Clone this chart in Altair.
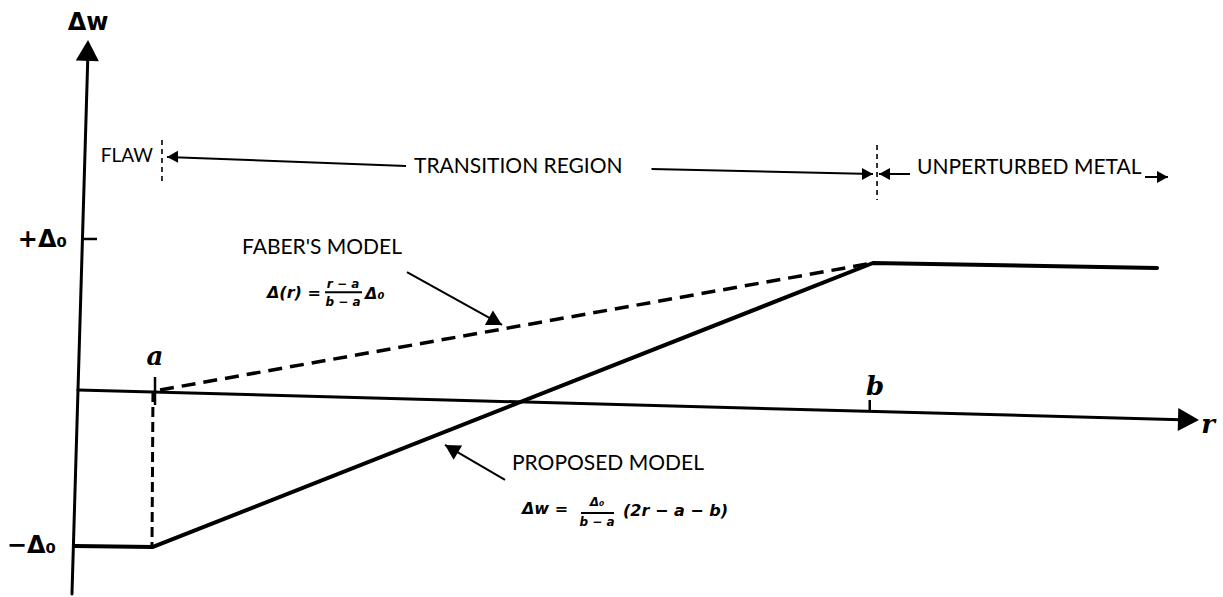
import altair as alt
import pandas as pd

# Horizontal coordinate r (flaw edge a = 1, b = 10.6) and vertical Δw in units
# of Δ0, both read as drawn (the hand-drawn axes are slightly skewed).
R_DOMAIN = [-1.0667, 15.24]
W_DOMAIN = [-1.340, 2.562]

# Coordinate axes: start and end points
axis_r1 = [-0.027, -0.107]
axis_w1 = [0.013, -1.32]
axis_r2 = [14.8, 0.107]
axis_w2 = [-0.183, 2.235]

# Short tick marks: +Δ0 on the Δw axis, a and b on the r axis
tick_r1 = [0.04, 1.0, 10.53]
tick_w1 = [1.0, 0.098, -0.052]
tick_r2 = [0.227, 1.0, 10.53]
tick_w2 = [1.0, -0.085, -0.131]

# Region arrows across the top and the two pointers to the model curves
ptr_r1 = [1.16, 7.62, 10.653, 14.2, 4.36, 5.667]
ptr_w1 = [1.536, 1.458, 1.425, 1.405, 0.784, -0.575]
ptr_r2 = [4.347, 10.573, 11.067, 14.507, 5.627, 4.867]
ptr_w2 = [1.477, 1.425, 1.425, 1.405, 0.438, -0.346]

# Dashed boundaries of the flaw and of the unperturbed metal
bound_r1 = [1.093, 10.627]
bound_w1 = [1.647, 1.614]
bound_r2 = [1.093, 10.627]
bound_w2 = [1.359, 1.255]

# Dashed drop from r = a down to -Δ0
drop_r1 = [0.973]
drop_w1 = [0.0]
drop_r2 = [0.96]
drop_w2 = [-1.0]

# Faber's model: linear from 0 at a up to Δ0 at b
faber_r = [1.067, 10.573]
faber_w = [0.013, 0.843]

# Proposed model: -Δ0 inside the flaw, linear ramp to +Δ0 at b, flat beyond
proposed_r = [-0.067, 0.973, 10.573, 14.36]
proposed_w = [-1.007, -1.013, 0.843, 0.811]

# Arrowheads: tip positions and pointing direction (degrees clockwise from up)
big_head_r = [0.107, 14.92]
big_head_w = [2.301, -0.183]
big_head_angle = [2, 91.5]

small_head_r = [1.16, 10.573, 10.653, 14.507]
small_head_w = [1.536, 1.425, 1.425, 1.405]
small_head_angle = [269, 90, 270, 90]

ptr_head_r = [5.627, 4.867]
ptr_head_w = [0.438, -0.346]
ptr_head_angle = [119, 301]

# Region and model captions
caption_text = ["TRANSITION REGION", "UNPERTURBED METAL", "FABER'S MODEL", "PROPOSED MODEL"]
caption_r = [4.453, 11.16, 2.16, 5.76]
caption_w = [1.471, 1.464, 0.941, -0.471]
flaw_text = ["FLAW"]
flaw_r = [0.973]
flaw_w = [1.542]

# Axis symbols
sym_text = ["+Δ₀", "−Δ₀"]
sym_r = [-0.173, -0.32]
sym_w = [0.993, -1.007]
title_text = ["Δw"]
title_r = [0.107]
title_w = [2.412]
var_text = ["a", "b", "r"]
var_r = [1.0, 10.6, 15.04]
var_w = [0.229, 0.033, -0.216]

# Formula pieces (left aligned runs and centred fraction parts)
eq_text = ["Δ(r) =", "Δ₀", "Δw =", "(2r − a − b)"]
eq_r = [2.493, 3.80, 5.893, 7.24]
eq_w = [0.647, 0.641, -0.765, -0.778]
frac_text = ["r − a", "b − a", "Δ₀", "b − a"]
frac_r = [3.507, 3.507, 6.893, 6.893]
frac_w = [0.703, 0.588, -0.722, -0.852]
bar_r1 = [3.267, 6.68]
bar_r2 = [3.76, 7.12]
bar_w = [0.652, -0.791]


def seg_frame(r1, w1, r2, w2):
    return pd.DataFrame({"r": r1, "w": w1, "r2": r2, "w2": w2})


def pt_frame(r, w, **extra):
    d = {"r": r, "w": w, "i": list(range(len(r)))}
    d.update(extra)
    return pd.DataFrame(d)


xs = alt.Scale(domain=R_DOMAIN, nice=False, zero=False)
ys = alt.Scale(domain=W_DOMAIN, nice=False, zero=False)
X = alt.X("r:Q", scale=xs, axis=None)
Y = alt.Y("w:Q", scale=ys, axis=None)
INK = "#000000"


def rules(df, **mark):
    return alt.Chart(df).mark_rule(color=INK, **mark).encode(
        x=X, y=Y, x2="r2:Q", y2="w2:Q"
    )


def heads(df, length):
    # triangle with its tip at the symbol origin, rotated by the angle field
    return alt.Chart(df).mark_point(
        shape="M0,0L-0.55,1L0.55,1Z", filled=True, fill=INK, opacity=1, strokeWidth=0
    ).encode(x=X, y=Y, angle=alt.Angle("angle:Q", scale=None), size=alt.value(4 * length * length))


def texts(df, **mark):
    return alt.Chart(df).mark_text(color=INK, baseline="middle", **mark).encode(
        x=X, y=Y, text="t:N"
    )


axes = rules(seg_frame(axis_r1, axis_w1, axis_r2, axis_w2), strokeWidth=3, strokeCap="round")
ticks = rules(seg_frame(tick_r1, tick_w1, tick_r2, tick_w2), strokeWidth=2.5)
pointers = rules(seg_frame(ptr_r1, ptr_w1, ptr_r2, ptr_w2), strokeWidth=2)
bounds = rules(seg_frame(bound_r1, bound_w1, bound_r2, bound_w2), strokeWidth=1.6, strokeDash=[5, 4])
drop = rules(seg_frame(drop_r1, drop_w1, drop_r2, drop_w2), strokeWidth=3, strokeDash=[10, 5])
bars = rules(seg_frame(bar_r1, bar_w, bar_r2, bar_w), strokeWidth=2)

faber = alt.Chart(pt_frame(faber_r, faber_w)).mark_line(
    color=INK, strokeWidth=3.5, strokeDash=[14, 8]
).encode(x=X, y=Y, order="i:Q")
proposed = alt.Chart(pt_frame(proposed_r, proposed_w)).mark_line(
    color=INK, strokeWidth=4, strokeJoin="round", strokeCap="round"
).encode(x=X, y=Y, order="i:Q")

big_heads = heads(pt_frame(big_head_r, big_head_w, angle=big_head_angle), 21)
small_heads = heads(pt_frame(small_head_r, small_head_w, angle=small_head_angle), 11)
ptr_heads = heads(pt_frame(ptr_head_r, ptr_head_w, angle=ptr_head_angle), 15)

captions = texts(pt_frame(caption_r, caption_w, t=caption_text), font="Lato", fontSize=21, align="left")
flaw = texts(pt_frame(flaw_r, flaw_w, t=flaw_text), font="Lato", fontSize=19, align="right")
symbols = texts(pt_frame(sym_r, sym_w, t=sym_text), font="DejaVu Sans", fontSize=24,
                fontWeight="bold", align="right")
title = texts(pt_frame(title_r, title_w, t=title_text), font="DejaVu Sans", fontSize=24,
              fontWeight="bold", align="center")
variables = texts(pt_frame(var_r, var_w, t=var_text), font="DejaVu Serif", fontSize=26,
                  fontWeight="bold", fontStyle="italic", align="center")
equations = texts(pt_frame(eq_r, eq_w, t=eq_text), font="DejaVu Sans", fontSize=16,
                  fontWeight="bold", fontStyle="italic", align="left")
fractions = texts(pt_frame(frac_r, frac_w, t=frac_text), font="DejaVu Sans", fontSize=12,
                  fontWeight="bold", fontStyle="italic", align="center")

chart = alt.layer(
    axes, ticks, pointers, bounds, drop, faber, proposed, bars,
    big_heads, small_heads, ptr_heads,
    captions, flaw, symbols, title, variables, equations, fractions,
).properties(
    width=1223, height=597, autosize=alt.AutoSizeParams(type="none"), padding=0,
    background="white",
).configure_view(stroke=None)

chart.save("out.html", embed_options={"renderer": "svg", "actions": False})
